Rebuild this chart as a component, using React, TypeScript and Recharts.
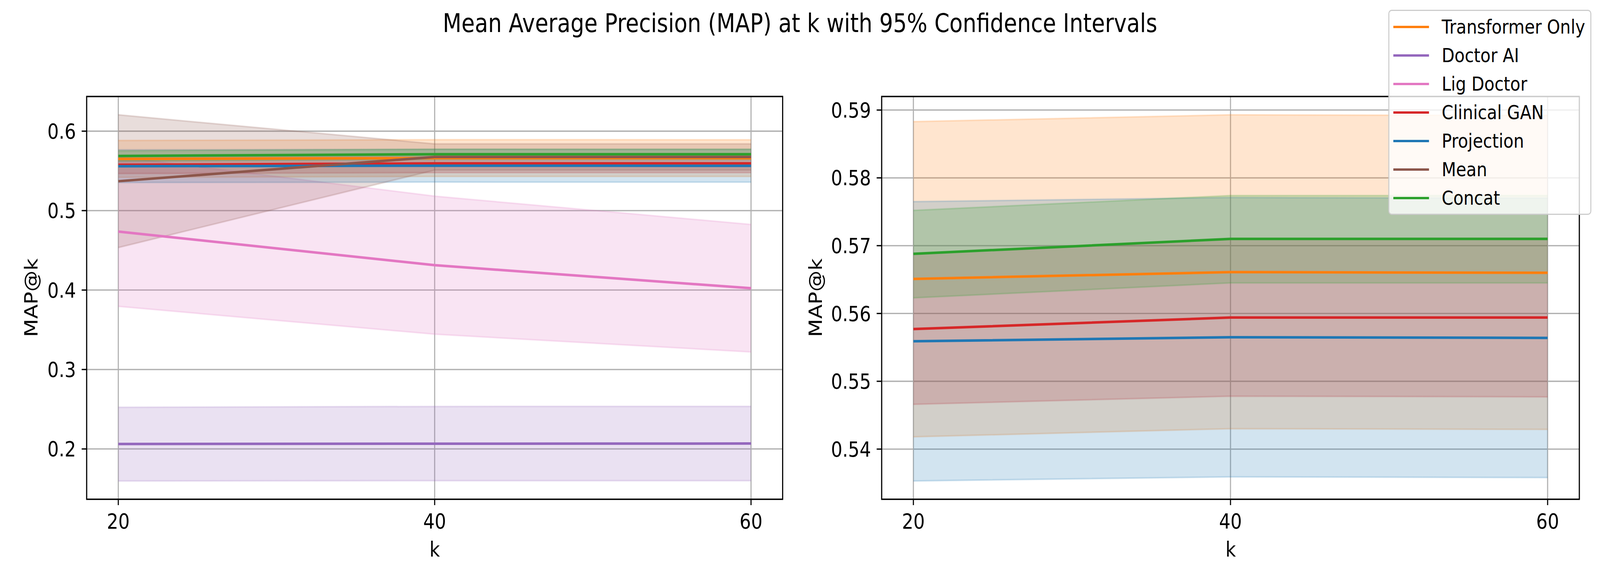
import { ComposedChart, Area, Line, XAxis, YAxis, CartesianGrid, ReferenceArea } from 'recharts'

const kValues = [20, 40, 60]
const kTicks = [20, 40, 60]
const leftTicks = [0.2, 0.3, 0.4, 0.5, 0.6]
const rightTicks = [0.54, 0.55, 0.56, 0.57, 0.58, 0.59]

const modelNames = ['Transformer Only', 'Doctor AI', 'Lig Doctor', 'Clinical GAN', 'Projection', 'Mean', 'Concat']
const rightModels = ['Transformer Only', 'Clinical GAN', 'Projection', 'Concat']

// mean MAP@k and 95% CI bounds
const transformerMean = [0.5651, 0.5661, 0.566]
const transformerLow = [0.5418, 0.543, 0.5429]
const transformerHigh = [0.5883, 0.5893, 0.5892]

const doctorAiMean = [0.2062, 0.2066, 0.2068]
const doctorAiLow = [0.1597, 0.16, 0.16]
const doctorAiHigh = [0.2525, 0.2535, 0.2536]

const ligDoctorMean = [0.4736, 0.4313, 0.4023]
const ligDoctorLow = [0.3794, 0.3444, 0.322]
const ligDoctorHigh = [0.5678, 0.5182, 0.4826]

const clinicalGanMean = [0.5577, 0.5594, 0.5594]
const clinicalGanLow = [0.5466, 0.5478, 0.5477]
const clinicalGanHigh = [0.5688, 0.571, 0.5711]

const projectionMean = [0.5559, 0.5565, 0.5564]
const projectionLow = [0.5353, 0.5359, 0.5358]
const projectionHigh = [0.5765, 0.5771, 0.577]

const meanMean = [0.537, 0.5675, 0.5675]
const meanLow = [0.4535, 0.551, 0.551]
const meanHigh = [0.6206, 0.584, 0.584]

const concatMean = [0.5688, 0.571, 0.571]
const concatLow = [0.5623, 0.5645, 0.5645]
const concatHigh = [0.5752, 0.5774, 0.5774]

const COLORS = ['#ff7f0e', '#9467bd', '#e377c2', '#d62728', '#1f77b4', '#8c564b', '#2ca02c']
const FONT = '"DejaVu Sans", sans-serif'

const bands = [
  { mean: transformerMean, low: transformerLow, high: transformerHigh },
  { mean: doctorAiMean, low: doctorAiLow, high: doctorAiHigh },
  { mean: ligDoctorMean, low: ligDoctorLow, high: ligDoctorHigh },
  { mean: clinicalGanMean, low: clinicalGanLow, high: clinicalGanHigh },
  { mean: projectionMean, low: projectionLow, high: projectionHigh },
  { mean: meanMean, low: meanLow, high: meanHigh },
  { mean: concatMean, low: concatLow, high: concatHigh },
].map((b, i) => ({ ...b, name: modelNames[i], color: COLORS[i], id: i }))

const rows = kValues.map((k, i) => {
  const row: Record<string, any> = { k }
  bands.forEach((b) => {
    row[`band${b.id}`] = [b.low[i], b.high[i]]
    row[`mean${b.id}`] = b.mean[i]
  })
  return row
})

function AxisTitle({ px, py, rot, text }: { px: number; py: number; rot?: number; text: string }) {
  return (
    <text
      x={px}
      y={py}
      textAnchor="middle"
      fill="#000"
      fontSize={54}
      fontFamily={FONT}
      transform={rot ? `rotate(${rot} ${px} ${py})` : undefined}
    >
      {text}
    </text>
  )
}

type PanelProps = {
  names: string[]
  yTicks: number[]
  digits: number
  marginLeft: number
  marginRight: number
  yLabelX: number
  xLabelX: number
  left: number
}

function Panel({ names, yTicks, digits, marginLeft, marginRight, yLabelX, xLabelX, left }: PanelProps) {
  const shown = bands.filter((b) => names.includes(b.name))
  const lo = Math.min(...shown.flatMap((b) => b.low))
  const hi = Math.max(...shown.flatMap((b) => b.high))
  const pad = (hi - lo) * 0.05
  const domain: [number, number] = [lo - pad, hi + pad]
  const tickStyle = { fill: '#000', fontSize: 54, fontFamily: FONT }
  const tickLine = { stroke: '#000', strokeWidth: 3.3 }

  return (
    <div style={{ position: 'absolute', left, top: 0 }}>
      <ComposedChart
        width={2400}
        height={1500}
        data={rows}
        margin={{ top: 247, right: marginRight, bottom: 72, left: marginLeft }}
      >
        {shown.map((b) => (
          <Area
            key={`a${b.id}`}
            dataKey={`band${b.id}`}
            type="linear"
            fill={b.color}
            fillOpacity={0.2}
            stroke={b.color}
            strokeOpacity={0.2}
            strokeWidth={4}
            dot={false}
            activeDot={false}
            isAnimationActive={false}
          />
        ))}
        <CartesianGrid stroke="#b0b0b0" strokeWidth={3.3} />
        {shown.map((b) => (
          <Line
            key={`l${b.id}`}
            dataKey={`mean${b.id}`}
            type="linear"
            stroke={b.color}
            strokeWidth={6.5}
            dot={false}
            activeDot={false}
            isAnimationActive={false}
          />
        ))}
        <XAxis
          dataKey="k"
          type="number"
          domain={[18, 62]}
          ticks={kTicks}
          allowDataOverflow
          height={150}
          tick={tickStyle}
          tickLine={tickLine}
          tickSize={15}
          tickMargin={22}
          axisLine={false}
          label={<AxisTitle px={xLabelX} py={1425} text="k" />}
        />
        <YAxis
          type="number"
          domain={domain}
          ticks={yTicks}
          allowDataOverflow
          width={200}
          tick={tickStyle}
          tickLine={tickLine}
          tickSize={15}
          tickMargin={17}
          axisLine={false}
          tickFormatter={(v: number) => v.toFixed(digits)}
          label={<AxisTitle px={yLabelX} py={762} rot={-90} text="MAP@k" />}
        />
        <ReferenceArea
          x1={18}
          x2={62}
          y1={domain[0]}
          y2={domain[1]}
          fill="none"
          stroke="#000"
          strokeWidth={3.3}
          ifOverflow="visible"
        />
      </ComposedChart>
    </div>
  )
}

export default function App() {
  // the browser caps the viewport width, so stretch the 4800x1500 figure onto whatever it gives us
  const sx = Math.min(1, window.innerWidth / 4800)
  const sy = Math.min(1, window.innerHeight / 1500)
  return (
    <div
      style={{
        position: 'absolute',
        left: 0,
        top: 0,
        width: 4800,
        height: 1500,
        background: '#fff',
        transform: `scale(${sx}, ${sy})`,
        transformOrigin: '0 0',
      }}
    >
      <Panel
        names={modelNames}
        yTicks={leftTicks}
        digits={1}
        marginLeft={60}
        marginRight={52}
        yLabelX={112}
        xLabelX={1304}
        left={0}
      />
      <Panel
        names={rightModels}
        yTicks={rightTicks}
        digits={2}
        marginLeft={45}
        marginRight={62}
        yLabelX={66}
        xLabelX={1292}
        left={2400}
      />
      <svg width={4800} height={150} style={{ position: 'absolute', left: 0, top: 0 }}>
        <text x={2400} y={82} textAnchor="middle" fontSize={65} fontFamily={FONT} fill="#000">
          Mean Average Precision (MAP) at k with 95% Confidence Intervals
        </text>
      </svg>
      <div
        style={{
          position: 'absolute',
          left: 4165,
          top: 25,
          width: 603,
          height: 519,
          border: '3.3px solid #cccccc',
          borderRadius: 10,
          background: 'rgba(255,255,255,0.8)',
          fontFamily: FONT,
          fontSize: 50,
        }}
      >
        {bands.map((b, i) => (
          <div
            key={b.name}
            style={{ position: 'absolute', left: 0, top: 41 + i * 73 - 40, height: 80, display: 'flex', alignItems: 'center' }}
          >
            <div style={{ marginLeft: 12, width: 107, height: 6, background: b.color }} />
            <span style={{ marginLeft: 38, whiteSpace: 'nowrap', color: '#000' }}>{b.name}</span>
          </div>
        ))}
      </div>
    </div>
  )
}
